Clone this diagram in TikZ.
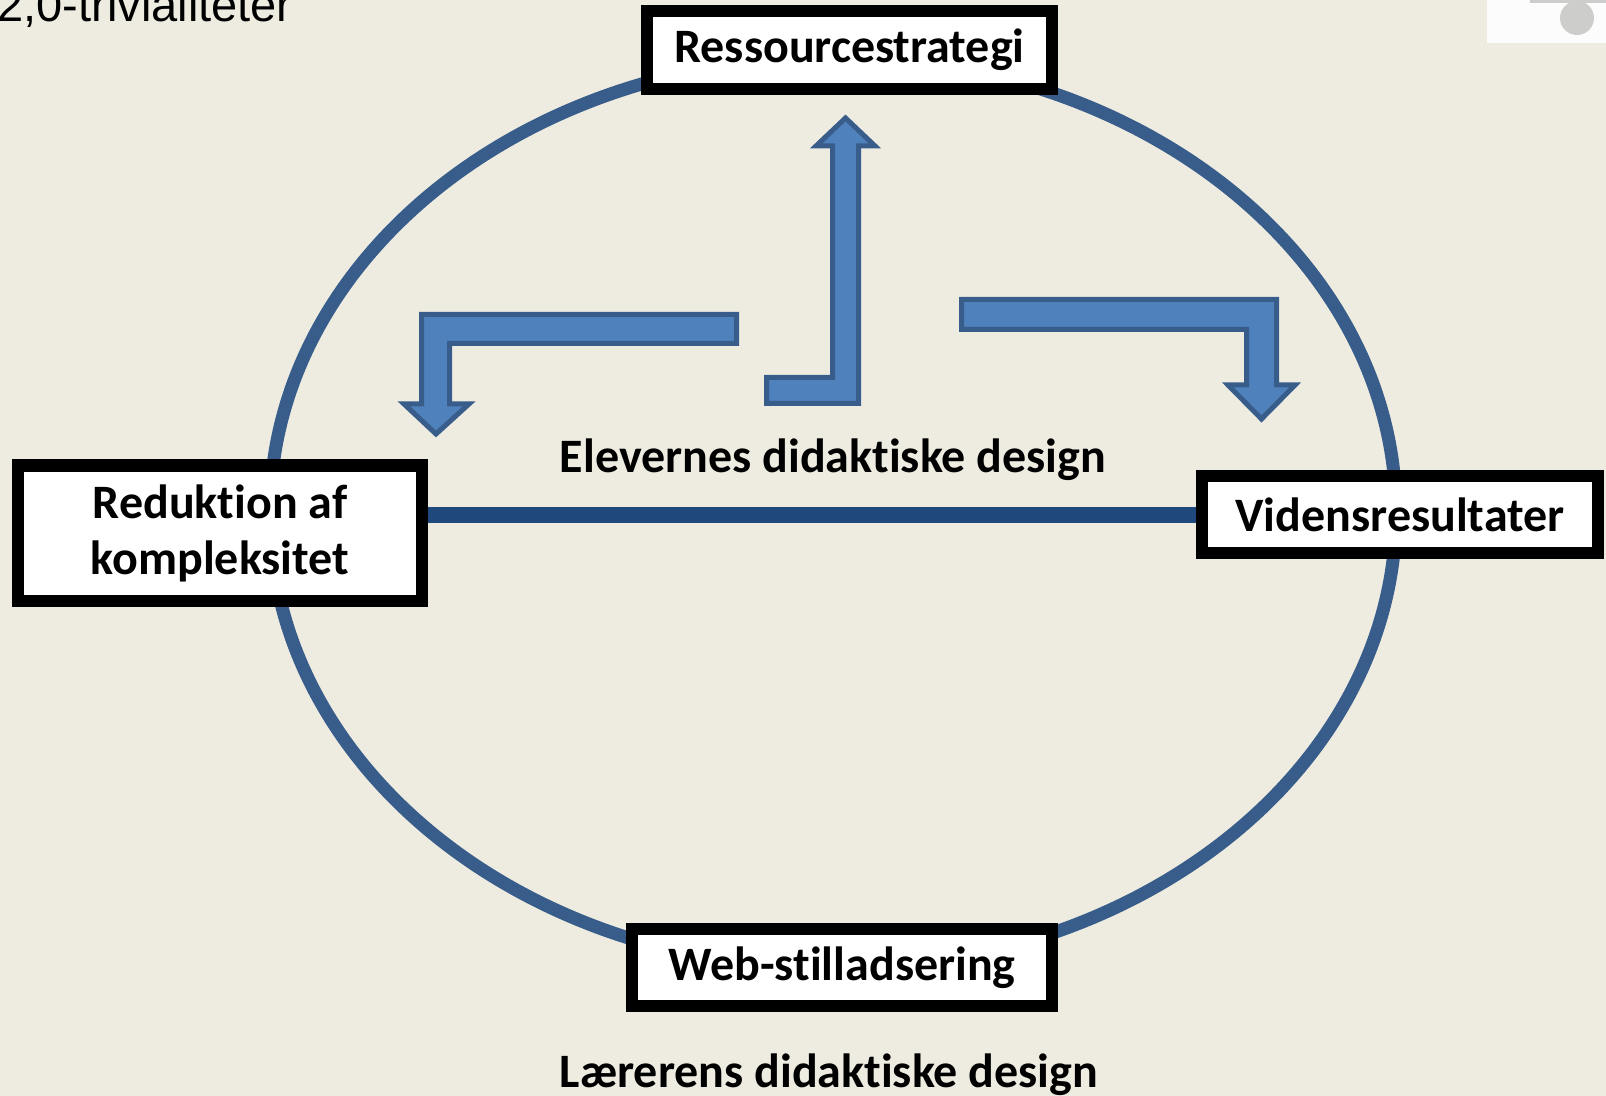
\documentclass[tikz,border=0pt]{standalone}
\usepackage{fontspec}
\setmainfont{Carlito}[Ligatures=NoCommon]
\newfontfamily\arialfont{Liberation Sans}
\usetikzlibrary{positioning, calc}
\definecolor{slidebg}{HTML}{EEECE1}
\definecolor{ringblue}{HTML}{385D8A}
\definecolor{lineblue}{HTML}{1F497D}
\definecolor{arrowfill}{HTML}{4F81BD}
\definecolor{logogray}{HTML}{CDCDCB}

\begin{document}
\begin{tikzpicture}[x=0.5pt, y=-0.5pt,
        box/.style={draw=black, fill=white, line width=6pt, inner sep=0pt, align=center,
            font=\fontsize{24}{28}\selectfont\bfseries},
        bentarrow/.style={fill=arrowfill, draw=ringblue, line width=2.5pt, line join=miter},
        caption/.style={anchor=base, inner sep=0pt, font=\fontsize{24}{28}\selectfont\bfseries}]
        \fill[slidebg] (0,0) rectangle (1606,1096);
        \useasboundingbox (0,0) rectangle (1606,1096);

        % cut-off title and picture
        \node[anchor=base west, inner sep=0pt, font=\arialfont\fontsize{23.5}{26}\selectfont] (trivial) at (-3,22) {2,0-trivialiteter};
        \fill[white!99!black] (1487,0) rectangle (1606,43);
        \fill[logogray] (1530,0) rectangle (1606,3);
        \fill[logogray] (1572,0) rectangle (1582,10);
        \fill[logogray] (1577,18) circle [radius=17];

        \draw[ringblue, line width=6.5pt] (833,513) ellipse [x radius=563, y radius=456];

        \node[box, minimum width=202.5pt, minimum height=39pt] (strategi) at (849.5,50) {Ressourcestrategi};
        \node[box, minimum width=198pt, minimum height=38.5pt] (videns) at (1400,514.5) {Vidensresultater};
        \node[box, minimum width=202pt, minimum height=67.5pt] (reduktion) at (220,533) {Reduktion af\\kompleksitet};
        \node[box, minimum width=210pt, minimum height=38.5pt] (web) at (842,967.5) {Web-stilladsering};

        \draw[lineblue, line width=8pt] (reduktion.east |- videns.west) -- (videns.west);

        \node[caption] (elevernes) at (833,473) {Elevernes didaktiske design};
        \node[caption] (laererens) at (829,1087) {Lærerens didaktiske design};

        % bent arrows
        \draw[bentarrow] (736.5,314.5) -- (421.5,314.5) -- (421.5,404) -- (404,404) -- (436,434)
            -- (469,404) -- (449.5,404) -- (449.5,343.5) -- (736.5,343.5) -- cycle;
        \draw[bentarrow] (766.5,377.5) -- (832.5,377.5) -- (832.5,146) -- (816,146) -- (845.5,118)
            -- (875,146) -- (858.5,146) -- (858.5,403.5) -- (766.5,403.5) -- cycle;
        \draw[bentarrow] (961.5,299.5) -- (1276.5,299.5) -- (1276.5,385) -- (1295,385) -- (1261.5,419)
            -- (1228,385) -- (1246.5,385) -- (1246.5,329.5) -- (961.5,329.5) -- cycle;
\end{tikzpicture}
\end{document}
